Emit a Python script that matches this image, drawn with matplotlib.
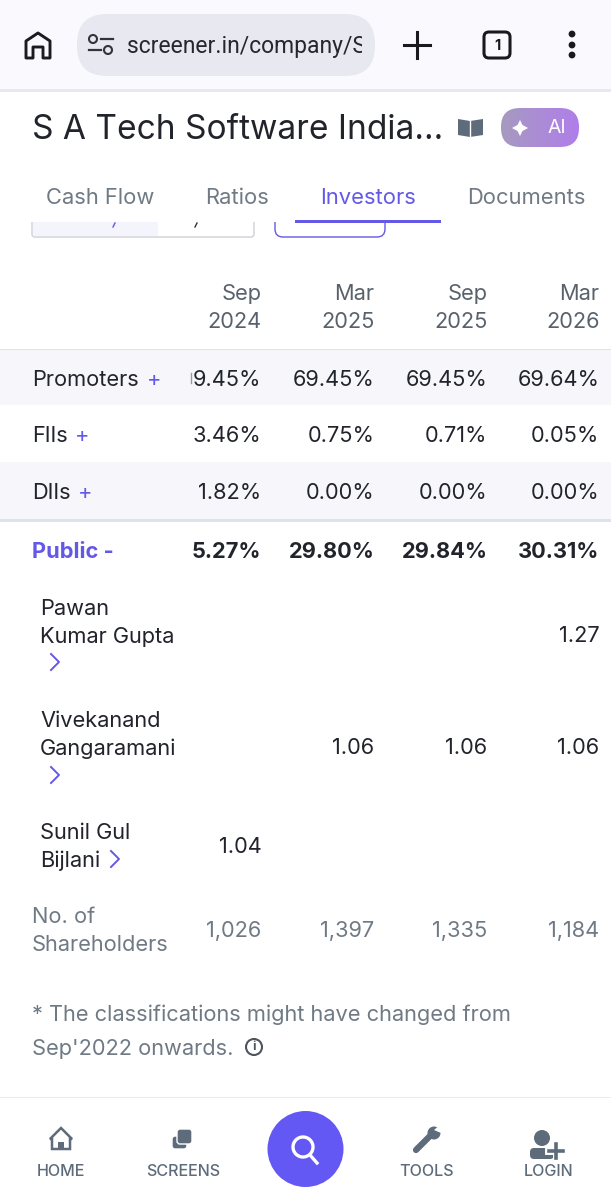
import numpy as np
import matplotlib
matplotlib.use("Agg")
import matplotlib.pyplot as plt
from matplotlib.colors import LinearSegmentedColormap
from matplotlib.patches import Rectangle, FancyBboxPatch, Circle, Polygon, Ellipse

plt.rcParams['font.family'] = ['Inter', 'DejaVu Sans']

# table contents
periods = [("Sep", "2024"), ("Mar", "2025"), ("Sep", "2025"), ("Mar", "2026")]
promoters = ["9.45%", "69.45%", "69.45%", "69.64%"]
fiis = ["3.46%", "0.75%", "0.71%", "0.05%"]
diis = ["1.82%", "0.00%", "0.00%", "0.00%"]
public = ["5.27%", "29.80%", "29.84%", "30.31%"]
pawan = ["", "", "", "1.27"]
vivekanand = ["", "1.06", "1.06", "1.06"]
sunil = ["1.04", "", "", ""]
shareholders = ["1,026", "1,397", "1,335", "1,184"]
tabs = ["Cash Flow", "Ratios", "Investors", "Documents"]
nav_labels = ["HOME", "SCREENS", "TOOLS", "LOGIN"]

DARK = "#22242c"
GREY = "#6f7a85"
PURPLE = "#6458e6"
ICON = "#5d6b7a"
col_right = [261.5, 374.5, 487.5, 599.5]

fig = plt.figure(figsize=(6.11, 12), dpi=100)
ax = fig.add_axes([0, 0, 1, 1])
ax.set_xlim(0, 611)
ax.set_ylim(1200, 0)
ax.axis("off")


def txt(x, y, s, size=15.7, color=DARK, ha="left", weight="normal", **kw):
    # inter sits a bit high with va=center
    return ax.text(x, y + 2, s, fontsize=size, color=color, ha=ha, va="center", fontweight=weight, **kw)


def band(y0, y1, color):
    ax.add_patch(Rectangle((0, y0), 611, y1 - y0, fc=color, ec="none"))


# browser bar
band(0, 90, "#f9f9fe")
band(89, 92, "#e8e8ee")
ax.add_patch(FancyBboxPatch((77, 14), 298, 62, boxstyle="round,pad=0,rounding_size=30", fc="#e8e8f0", ec="none"))
ax.add_patch(Polygon([(26, 41), (38, 33), (50, 41), (50, 58), (43, 58), (43, 47), (33, 47), (33, 58), (26, 58)],
                     closed=True, fc="none", ec="#1c1c20", lw=2.1, joinstyle="round"))
ax.add_patch(Circle((93, 39), 4, fc="none", ec="#33343a", lw=1.5))
ax.add_patch(Circle((108, 50), 4, fc="none", ec="#33343a", lw=1.5))
ax.plot([101, 113], [39, 39], color="#33343a", lw=1.6)
ax.plot([89, 101], [50, 50], color="#33343a", lw=1.6)
t = txt(127, 44, "screener.in/company/S", size=16.5, color="#26272c", family="Roboto")
t.set_clip_path(Rectangle((0, 0), 362, 90, transform=ax.transData))
t.set_clip_on(True)
ax.plot([417, 417], [32, 58], color="#1a1a1e", lw=2.2)
ax.plot([404, 430], [45, 45], color="#1a1a1e", lw=2.2)
ax.add_patch(FancyBboxPatch((484, 32), 26, 26, boxstyle="round,pad=0,rounding_size=5", fc="none", ec="#1a1a1e", lw=2.2))
txt(497, 44, "1", size=10.5, color="#1a1a1e", ha="center", weight="bold")
for y in (34, 45, 55):
    ax.add_patch(Circle((572, y), 3.4, fc="#1a1a1e", ec="none"))

# title row
txt(32, 128, "S A Tech Software India...", size=24.1, color=DARK)
ax.add_patch(Polygon([(458, 119), (470, 121), (483, 119), (483, 135), (470, 137), (458, 135)], closed=True, fc=ICON, ec="none"))
ax.plot([470, 470], [121, 137], color="white", lw=1)

pill = FancyBboxPatch((501, 108), 78, 39, boxstyle="round,pad=0,rounding_size=19", fc="none", ec="none")
ax.add_patch(pill)
pill_cmap = LinearSegmentedColormap.from_list("pill", ["#a69ac0", "#b07eea"])
im = ax.imshow(np.linspace(0, 1, 100).reshape(1, -1), extent=(501, 579, 147, 108), cmap=pill_cmap, aspect="auto")
im.set_clip_path(pill)
ax.set_xlim(0, 611)
ax.set_ylim(1200, 0)
ax.add_patch(Polygon([(520, 120), (522.5, 125), (528, 128), (522.5, 131), (520, 136), (517.5, 131), (512, 128), (517.5, 125)], closed=True, fc="white", ec="none"))
txt(547, 126, "AI", size=14, color="white")

# half hidden buttons under the tab strip
ax.add_patch(FancyBboxPatch((32, 212), 222, 25, boxstyle="round,pad=0,rounding_size=3", fc="white", ec="#cfcfd6", lw=1))
ax.add_patch(Rectangle((33, 212), 125, 24, fc="#f4f4fd", ec="none"))
ax.add_patch(FancyBboxPatch((275, 208), 110, 29, boxstyle="round,pad=0,rounding_size=8", fc="white", ec=PURPLE, lw=1))
band(160, 222, "white")
ax.plot([115, 113], [223, 227], color=PURPLE, lw=1)
ax.plot([197, 195], [223, 227], color="#333333", lw=1)

# tabs
for name, x in zip(tabs, (46, 205, 320, 467)):
    txt(x, 196, name, size=15.8, color=PURPLE if name == "Investors" else GREY)
ax.add_patch(Rectangle((295, 220), 146, 2.5, fc=PURPLE, ec="none"))

# column headers
for (m, yr), x in zip(periods, col_right):
    txt(x, 292, m, color="#59626c", ha="right")
    txt(x, 320, yr, color="#59626c", ha="right")

# striped rows
band(349, 405, "#f6f6fb")
band(349, 350, "#dbe3ee")
band(462, 519, "#f6f6fb")
band(519, 522, "#dbe3ec")

rows = [(378, "Promoters", 147, promoters), (434, "FIIs", 75, fiis), (491, "DIIs", 78, diis)]
for y, name, plus_x, vals in rows:
    txt(32, y, name)
    txt(plus_x, y, "+", color=PURPLE)
    for v, x in zip(vals, col_right):
        txt(x, y, v, ha="right")
ax.plot([191, 191], [373, 383], color="#9a9aa2", lw=1)

txt(32, 550, "Public -", color=PURPLE, weight="bold")
for v, x in zip(public, col_right):
    txt(x, 550, v, ha="right", weight="bold")


def chevron(x, y):
    ax.plot([x, x + 8, x], [y - 8, y, y + 8], color=PURPLE, lw=1.4)


txt(40, 607, "Pawan")
txt(40, 635, "Kumar Gupta")
chevron(51, 662)
for v, x in zip(pawan, col_right):
    txt(x, 634, v, ha="right")

txt(40, 719, "Vivekanand")
txt(40, 747, "Gangaramani")
chevron(51, 775)
for v, x in zip(vivekanand, col_right):
    txt(x, 746, v, ha="right")

txt(40, 831, "Sunil Gul")
txt(40, 859, "Bijlani")
chevron(111, 859)
for v, x in zip(sunil, col_right):
    txt(x, 845, v, ha="right")

txt(32, 915, "No. of", color=GREY)
txt(32, 943, "Shareholders", color=GREY)
for v, x in zip(shareholders, col_right):
    txt(x, 929, v, ha="right", color=GREY)

# footnote
txt(32, 1013, "* The classifications might have changed from", size=15.7, color=GREY)
txt(32, 1047, "Sep'2022 onwards.", size=15.7, color=GREY)
ax.add_patch(Circle((254, 1047), 8, fc="none", ec="#4c5560", lw=1.5))
txt(254, 1045, "i", size=9, color="#4c5560", ha="center", weight="bold")

# bottom nav
band(1097, 1098, "#ececf0")
for name, x in zip(nav_labels, (61, 183, 427, 549)):
    txt(x, 1170, name, size=11.6, color=ICON, ha="center", weight="medium")
ax.add_patch(Polygon([(50, 1139), (61, 1128), (72, 1139), (70, 1139), (70, 1149), (52, 1149), (52, 1139)],
                     closed=True, fc="none", ec=ICON, lw=1.8))
ax.add_patch(Rectangle((58, 1142), 6, 7, fc=ICON, ec="none"))
ax.add_patch(FancyBboxPatch((172, 1136), 15, 13, boxstyle="round,pad=0,rounding_size=3", fc=ICON, ec="white", lw=1))
ax.add_patch(FancyBboxPatch((177, 1129), 15, 15, boxstyle="round,pad=0,rounding_size=3", fc=ICON, ec="white", lw=1))
ax.add_patch(Ellipse((305.5, 1149), 76, 76, fc="#6458f5", ec="none"))
ax.add_patch(Circle((303, 1147), 10, fc="none", ec="white", lw=2.4))
ax.plot([310, 317], [1155, 1163], color="white", lw=2.4)
ax.plot([416, 432], [1150, 1134], color=ICON, lw=4.5, solid_capstyle="round")
ax.add_patch(Circle((434, 1133), 6.5, fc=ICON, ec="none"))
ax.add_patch(Polygon([(434, 1130), (441, 1124), (446, 1127), (441, 1133)], closed=True, fc="white", ec="none"))
ax.add_patch(Circle((542, 1138), 8, fc=ICON, ec="none"))
ax.add_patch(FancyBboxPatch((530, 1148), 24, 11, boxstyle="round,pad=0,rounding_size=4", fc=ICON, ec="none"))
ax.plot([556, 556], [1143, 1159], color="white", lw=5)
ax.plot([548, 564], [1151, 1151], color="white", lw=5)
ax.plot([556, 556], [1144, 1158], color=ICON, lw=2.6)
ax.plot([549, 563], [1151, 1151], color=ICON, lw=2.6)

fig.savefig("out.png", dpi=100, facecolor="white")
